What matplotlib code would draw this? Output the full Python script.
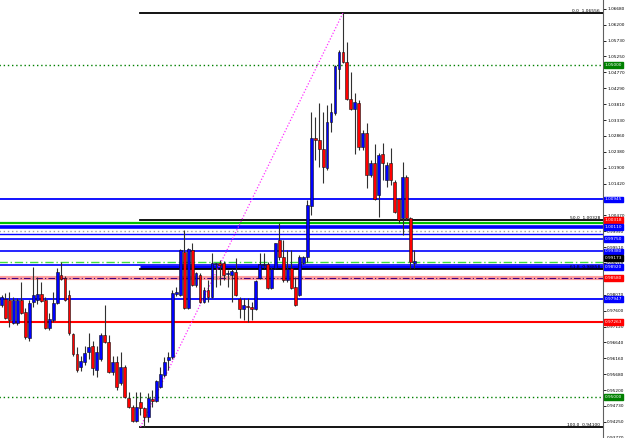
import numpy as np
import matplotlib
matplotlib.use('Agg')
import matplotlib.pyplot as plt
import matplotlib.transforms as mtransforms

# weekly candles (price units)
opens = [
    0.9778, 0.9796, 0.9793, 0.9724, 0.9724, 0.9793, 0.9757, 0.9679, 0.9787, 0.9793,
    0.9811, 0.9793, 0.9709, 0.9733, 0.9784, 0.9868, 0.9859, 0.9808, 0.9691, 0.9628,
    0.9591, 0.9604, 0.9634, 0.9652, 0.9582, 0.9613, 0.9688, 0.9664, 0.9576, 0.9604,
    0.9543, 0.9591, 0.9498, 0.9471, 0.9429, 0.9486, 0.9468, 0.9441, 0.9495, 0.9489,
    0.9531, 0.9567, 0.9610, 0.9619, 0.9811, 0.9808, 0.9937, 0.9769, 0.9943, 0.9838,
    0.9868, 0.9787, 0.9823, 0.9802, 0.9901, 0.9904, 0.9904, 0.9871, 0.9868, 0.9877,
    0.9796, 0.9766, 0.9775, 0.9772, 0.9766, 0.9859, 0.9898, 0.9901, 0.9829, 0.9889,
    0.9973, 0.9922, 0.9853, 0.9889, 0.9832, 0.9808, 0.9904, 0.9922, 1.0076, 1.0280,
    1.0274, 1.0247, 1.0190, 1.0328, 1.0355, 1.0488, 1.0539, 1.0509, 1.0397, 1.0367,
    1.0385, 1.0253, 1.0295, 1.0169, 1.0205, 1.0109, 1.0232, 1.0154, 1.0205, 1.0148,
    1.0097, 1.0040, 1.0163, 1.0040, 0.9904]
highs = [
    0.9808, 0.9814, 0.9817, 0.9802, 0.9799, 0.9847, 0.9769, 0.9793, 0.9892, 0.9862,
    0.9847, 0.9802, 0.9754, 0.9817, 0.9889, 0.9907, 0.9865, 0.9823, 0.9694, 0.9649,
    0.9622, 0.9652, 0.9694, 0.9667, 0.9652, 0.9694, 0.9778, 0.9688, 0.9622, 0.9622,
    0.9634, 0.9597, 0.9516, 0.9477, 0.9516, 0.9516, 0.9471, 0.9513, 0.9522, 0.9552,
    0.9591, 0.9619, 0.9634, 0.9823, 0.9832, 0.9946, 1.0003, 0.9949, 0.9964, 0.9877,
    0.9874, 0.9832, 0.9853, 0.9934, 0.9904, 0.9913, 0.9910, 0.9883, 0.9886, 0.9919,
    0.9802, 0.9799, 0.9799, 0.9787, 0.9853, 0.9934, 0.9934, 0.9907, 0.9892, 0.9964,
    1.0024, 0.9973, 0.9943, 0.9943, 0.9862, 0.9928, 0.9925, 1.0094, 1.0358, 1.0343,
    1.0385, 1.0358, 1.0379, 1.0385, 1.0500, 1.0545, 1.0656, 1.0569, 1.0479, 1.0415,
    1.0394, 1.0304, 1.0325, 1.0214, 1.0262, 1.0235, 1.0265, 1.0208, 1.0250, 1.0154,
    1.0100, 1.0208, 1.0169, 1.0043, 0.9943]
lows = [
    0.9772, 0.9736, 0.9712, 0.9721, 0.9718, 0.9751, 0.9676, 0.9670, 0.9772, 0.9781,
    0.9787, 0.9706, 0.9703, 0.9727, 0.9781, 0.9853, 0.9790, 0.9688, 0.9622, 0.9576,
    0.9579, 0.9597, 0.9613, 0.9567, 0.9561, 0.9607, 0.9661, 0.9573, 0.9567, 0.9522,
    0.9537, 0.9498, 0.9468, 0.9426, 0.9426, 0.9447, 0.9410, 0.9426, 0.9471, 0.9486,
    0.9528, 0.9561, 0.9582, 0.9613, 0.9805, 0.9805, 0.9766, 0.9766, 0.9835, 0.9832,
    0.9784, 0.9784, 0.9787, 0.9799, 0.9832, 0.9838, 0.9853, 0.9832, 0.9787, 0.9805,
    0.9739, 0.9733, 0.9727, 0.9733, 0.9763, 0.9856, 0.9889, 0.9826, 0.9826, 0.9886,
    0.9913, 0.9847, 0.9847, 0.9826, 0.9775, 0.9805, 0.9901, 0.9907, 1.0049, 1.0214,
    1.0193, 1.0145, 1.0184, 1.0298, 1.0349, 1.0427, 1.0506, 1.0394, 1.0364, 1.0232,
    1.0244, 1.0244, 1.0130, 1.0163, 1.0094, 1.0043, 1.0154, 1.0133, 1.0139, 1.0055,
    1.0024, 0.9988, 1.0034, 0.9889, 0.9889]
closes = [
    0.9802, 0.9739, 0.9733, 0.9793, 0.9793, 0.9754, 0.9682, 0.9784, 0.9808, 0.9811,
    0.9790, 0.9709, 0.9736, 0.9784, 0.9877, 0.9856, 0.9793, 0.9694, 0.9628, 0.9582,
    0.9607, 0.9631, 0.9649, 0.9588, 0.9634, 0.9688, 0.9664, 0.9576, 0.9604, 0.9531,
    0.9591, 0.9501, 0.9471, 0.9429, 0.9471, 0.9468, 0.9441, 0.9498, 0.9489, 0.9549,
    0.9570, 0.9604, 0.9619, 0.9814, 0.9817, 0.9943, 0.9769, 0.9946, 0.9838, 0.9874,
    0.9787, 0.9823, 0.9802, 0.9904, 0.9904, 0.9898, 0.9868, 0.9874, 0.9880, 0.9808,
    0.9766, 0.9778, 0.9772, 0.9766, 0.9850, 0.9901, 0.9901, 0.9829, 0.9886, 0.9964,
    0.9922, 0.9853, 0.9886, 0.9829, 0.9778, 0.9922, 0.9922, 1.0079, 1.0280, 1.0274,
    1.0247, 1.0193, 1.0328, 1.0358, 1.0497, 1.0539, 1.0509, 1.0397, 1.0367, 1.0388,
    1.0253, 1.0295, 1.0169, 1.0205, 1.0097, 1.0229, 1.0205, 1.0199, 1.0154, 1.0058,
    1.0034, 1.0163, 1.0040, 0.9907, 0.9910]

# price scale labels on the right
tick_prices = [1.06680, 1.06200, 1.05730, 1.05250, 1.04770, 1.04290, 1.03810,
               1.03330, 1.02860, 1.02380, 1.01900, 1.01420, 1.00940, 1.00470,
               0.99990, 0.99510, 0.99030, 0.98550, 0.98070, 0.97600, 0.97120,
               0.96640, 0.96160, 0.95680, 0.95200, 0.94730, 0.94250, 0.93770]

# fibonacci retracement (low bar -> high bar)
fib_low_bar, fib_high_bar = 35, 86
fib_low, fib_high = 0.94100, 1.06556
fib_levels = [0.0, 50.0, 61.8, 100.0]

# horizontal lines: price, colour, width, style, from_bar (None = full width)
hlines = [
    (1.05000, '#008000', 1.0, (0, (1, 2)), None),
    (1.00945, '#0000ff', 1.3, '-', None),
    (1.00230, '#00c000', 1.6, '-', None),
    (1.00110, '#0000ff', 2.6, '-', None),
    (0.99990, '#a0a0a0', 1.0, (0, (1, 2)), None),
    (0.99910, '#0000ff', 1.0, '-', None),
    (0.99750, '#0000ff', 1.2, '-', None),
    (0.99380, '#0000ff', 1.2, '-', None),
    (0.99060, '#40e040', 1.0, (0, (6, 2, 1, 2)), None),
    (0.98960, '#0000ff', 1.2, '-', None),
    (0.98920, '#0000ff', 2.4, '-', 35),
    (0.98580, '#ffa0a0', 3.0, '-', None),
    (0.98580, '#400080', 0.8, (0, (6, 2, 1, 2)), None),
    (0.97947, '#0000ff', 1.3, '-', None),
    (0.97263, '#ff0000', 1.5, '-', None),
    (0.95000, '#008000', 1.0, (0, (1, 2)), None),
]

# right-edge price boxes: price, text, colour
price_boxes = [
    (1.05000, '1.05000', '#008000'),
    (1.00945, '1.00945', '#0000ff'),
    (1.00318, '1.00318', '#ff0000'),
    (1.00110, '1.00110', '#0000ff'),
    (0.99750, '0.99750', '#0000ff'),
    (0.99380, '0.99380', '#0000ff'),
    (0.99173, '0.99173', '#000000'),
    (0.98920, '0.98920', '#0000ff'),
    (0.98580, '0.98580', '#ff0000'),
    (0.97947, '0.97947', '#0000ff'),
    (0.97263, '0.97263', '#ff0000'),
    (0.95000, '0.95000', '#008000'),
]

n = len(opens)
assert len(highs) == n and len(lows) == n and len(closes) == n

fig = plt.figure(figsize=(6.25, 4.38), dpi=100)
ax = fig.add_axes([0, 0, 603 / 625, 1])
ax.set_facecolor('white')

x = np.arange(n)
o = np.array(opens)
c = np.array(closes)
bull = c >= o

# horizontal lines first so the candles sit on top
for price, col, lw, ls, start in hlines:
    xmin = -1 if start is None else start
    ax.plot([xmin, 200], [price, price], color=col, lw=lw, ls=ls, zorder=1,
            solid_capstyle='butt')

# fibonacci
fib_range = fib_high - fib_low
for lev in fib_levels:
    p = fib_high - fib_range * lev / 100.0
    ax.plot([fib_low_bar, 200], [p, p], color='black', lw=1.3, zorder=2)
    ax.text(150.8, p, '%.1f  %.5f' % (lev, p), fontsize=3.2, ha='right',
            va='bottom', color='black', zorder=6)
ax.plot([fib_low_bar, fib_high_bar], [fib_low, fib_high], color='#ff30ff',
        lw=0.9, ls=(0, (1, 1.5)), zorder=2)

# candles
ax.vlines(x, lows, highs, color='#303030', lw=0.8, zorder=3)
body_lo = np.minimum(o, c)
body_h = np.maximum(np.abs(c - o), 0.00008)
cols = np.where(bull, '#0000ff', '#ff0000')
ax.bar(x, body_h, bottom=body_lo, width=0.72, color=cols,
       edgecolor='#101010', linewidth=0.4, zorder=4)

ax.set_xlim(-0.38, 151.5)
ax.set_ylim(0.93765, 1.0695)

# right price scale; scale labels sitting under a price box are hidden
box_prices = [b[0] for b in price_boxes]
tick_text = []
for t in tick_prices:
    covered = min(abs(t - b) for b in box_prices) < 0.0004
    tick_text.append('' if covered else '%.5f' % t)
ax.yaxis.tick_right()
ax.set_yticks(tick_prices)
ax.set_yticklabels(tick_text)
ax.tick_params(axis='y', labelsize=3.1, length=2, width=0.6, pad=1,
               colors='black')
ax.set_xticks([])
for side in ['left', 'top', 'bottom']:
    ax.spines[side].set_visible(False)
ax.spines['right'].set_color('#606060')
ax.spines['right'].set_linewidth(0.8)

trans = mtransforms.blended_transform_factory(ax.transAxes, ax.transData)
for price, txt, col in price_boxes:
    ax.text(1.003, price, txt, transform=trans, fontsize=3.1, color='white',
            va='center', ha='left', clip_on=False, zorder=7,
            bbox=dict(boxstyle='square,pad=0.2', facecolor=col,
                      edgecolor=col))

fig.savefig('out.png', dpi=100, facecolor='white')
